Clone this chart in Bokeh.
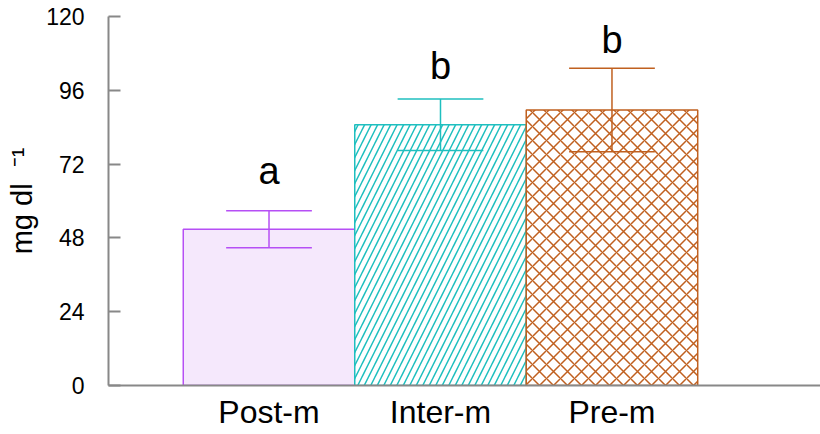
from bokeh.plotting import figure
from bokeh.models import FixedTicker, ColumnDataSource
from bokeh.core.properties import value
from bokeh.embed import file_html
from bokeh.resources import INLINE

groups = ["Post-m", "Inter-m", "Pre-m"]
means = [50.8, 84.8, 89.6]
errors = [6.0, 8.4, 13.6]
letters = ["a", "b", "b"]
letter_y = [69.7, 103.9, 112.3]
y_ticks = [0, 24, 48, 72, 96, 120]
y_label = "mg dl\u00a0\u00a0\u207b\u00b9"

fills = ["#f5e8fc", "white", "white"]
lines = ["#b64ff5", "#1fbfbf", "#c0601f"]
hatches = [" ", "/", "x"]
hatch_scales = [13, 13, 14]

FONT = "Liberation Sans"

xs = [i + 1 for i in range(len(groups))]
upper = [m + e for m, e in zip(means, errors)]
lower = [m - e for m, e in zip(means, errors)]

p = figure(width=820, height=434, output_backend="svg", toolbar_location=None,
           x_range=(0.064, 4.216), y_range=(0, 120),
           min_border_left=108, min_border_right=0, min_border_top=16, min_border_bottom=49)
p.outline_line_color = None
p.grid.grid_line_color = None
p.background_fill_color = "white"

for i in range(len(groups)):
    p.vbar(x=[xs[i]], top=[means[i]], bottom=0, width=1.0,
           fill_color=fills[i], line_color=lines[i], line_width=1.5,
           hatch_pattern=hatches[i], hatch_color=lines[i], hatch_scale=hatch_scales[i],
           hatch_weight=1.5)

src = ColumnDataSource(dict(x=xs, up=upper, lo=lower, m=means, c=lines,
                            x0=[x - 0.25 for x in xs], x1=[x + 0.25 for x in xs],
                            lt=letters, ly=letter_y))
p.segment(x0="x", y0="lo", x1="x", y1="up", line_color="c", line_width=1.5, source=src)
p.segment(x0="x0", y0="up", x1="x1", y1="up", line_color="c", line_width=1.5, source=src)
p.segment(x0="x0", y0="lo", x1="x1", y1="lo", line_color="c", line_width=1.5, source=src)
p.text(x="x", y="ly", text="lt", text_align="center", text_baseline="alphabetic",
       text_font=value(FONT), text_font_size="38px", text_color="black", source=src)

# y axis
ya = p.yaxis[0]
ya.ticker = FixedTicker(ticks=y_ticks)
ya.major_tick_in = 12
ya.major_tick_out = 0
ya.minor_tick_line_color = None
ya.axis_line_color = "#888888"
ya.axis_line_width = 2
ya.major_tick_line_color = "#888888"
ya.major_tick_line_width = 2
ya.major_label_text_font = FONT
ya.major_label_text_font_size = "23px"
ya.major_label_text_color = "black"
ya.major_label_standoff = 24
ya.axis_label = y_label
ya.axis_label_text_font = FONT
ya.axis_label_text_font_size = "29px"
ya.axis_label_text_font_style = "normal"
ya.axis_label_text_color = "black"
ya.axis_label_standoff = 5

# x axis
xa = p.xaxis[0]
xa.ticker = FixedTicker(ticks=xs)
xa.major_label_overrides = {x: g for x, g in zip(xs, groups)}
xa.major_tick_in = 0
xa.major_tick_out = 0
xa.minor_tick_line_color = None
xa.axis_line_color = "#888888"
xa.axis_line_width = 2
xa.major_label_text_font = FONT
xa.major_label_text_font_size = "32px"
xa.major_label_text_color = "black"
xa.major_label_standoff = 8

open("out.html", "w").write(file_html(p, INLINE))
